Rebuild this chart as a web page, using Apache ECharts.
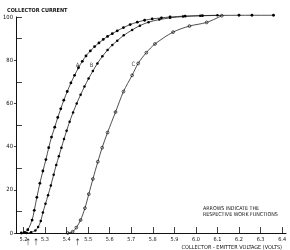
<!DOCTYPE html>
<html>
<head>
<meta charset="utf-8">
<script src="https://cdn.jsdelivr.net/npm/echarts@6/dist/echarts.min.js"></script>
<style>
  html, body { margin: 0; padding: 0; background: #fff; }
  #chart { width: 290px; height: 250px; }
</style>
</head>
<body>
<div id="chart"></div>
<script>
// curve A (filled dots)
var voltsA = [5.19, 5.205, 5.22, 5.24, 5.25, 5.262, 5.276, 5.29, 5.304, 5.317, 5.33, 5.345, 5.359, 5.373, 5.387, 5.403, 5.42, 5.437, 5.455, 5.473, 5.49, 5.51, 5.53, 5.55, 5.57, 5.59, 5.612, 5.635, 5.664, 5.695, 5.728, 5.762, 5.797, 5.84, 5.88, 5.95, 6.03, 6.2, 6.26, 6.36];
var currentA = [0, 0.3, 1.5, 6, 10.5, 16.5, 23, 28.7, 34, 39.5, 44.4, 49, 53.5, 57.5, 61.5, 65.5, 69.5, 73, 76.5, 79.5, 82, 84.3, 86.3, 88, 89.6, 91, 92.3, 93.6, 95.1, 96.5, 97.6, 98.5, 99.1, 99.6, 100, 100.4, 100.6, 100.8, 100.8, 100.8];
// curve B (small dots)
var voltsB = [5.215, 5.235, 5.255, 5.268, 5.28, 5.29, 5.302, 5.314, 5.327, 5.34, 5.352, 5.364, 5.376, 5.388, 5.4, 5.414, 5.43, 5.447, 5.465, 5.483, 5.502, 5.522, 5.543, 5.566, 5.59, 5.612, 5.635, 5.665, 5.704, 5.74, 5.78, 5.83, 5.88, 5.94, 6.02, 6.1];
var currentB = [0, 0.3, 1.2, 2.8, 5.5, 9.5, 13.5, 17.5, 22, 27, 31.5, 35.5, 39.5, 43.5, 47.3, 51.5, 55.8, 60, 64, 67.8, 71.5, 75, 78.5, 81.8, 84.7, 87, 89, 91.5, 94, 96, 97.6, 98.8, 99.6, 100.2, 100.6, 100.8];
// curve C (open circles)
var voltsC = [5.405, 5.428, 5.445, 5.465, 5.485, 5.503, 5.522, 5.545, 5.565, 5.59, 5.627, 5.664, 5.704, 5.732, 5.77, 5.81, 5.894, 5.97, 6.05, 6.12];
var currentC = [0, 0.6, 2.5, 6, 11.5, 18, 25, 33, 39.5, 46.5, 56, 65.5, 73, 78.5, 83.5, 87.5, 93, 95.8, 97.5, 100.6];

var xTicks = [5.2, 5.3, 5.4, 5.5, 5.6, 5.7, 5.8, 5.9, 6.0, 6.1, 6.2, 6.3, 6.4];
var yLabels = [0, 20, 40, 60, 80, 100];
var yMinorTicks = [10, 30, 50, 70, 90, 100];

var curveNames = ['A', 'B', 'C'];
var curveLabelX = [5.451, 5.516, 5.71];
var curveLabelY = [77.8, 77.8, 78.2];

// work function arrows
var arrowVolts = [5.221, 5.258, 5.451];
var arrowLevel = -4;

function pairs(xs, ys) {
    return xs.map(function (x, i) { return [x, ys[i]]; });
}

var ink = '#111';
var font = 'DejaVu Sans Condensed';

var myChart = echarts.init(document.getElementById('chart'), null, { renderer: 'canvas' });

var option = {
    backgroundColor: '#fff',
    animation: false,
    title: [
        {
            text: 'COLLECTOR CURRENT',
            left: 2, top: 3,
            textStyle: { color: ink, fontSize: 5.5, fontWeight: 'bold', fontFamily: font }
        },
        {
            text: 'ARROWS INDICATE THE\nRESPECTIVE WORK FUNCTIONS',
            left: 198, top: 200,
            textStyle: { color: ink, fontSize: 5.3, fontWeight: 'normal', fontFamily: font, lineHeight: 6.5 }
        },
        {
            text: 'COLLECTOR - EMITTER VOLTAGE (VOLTS)',
            right: 3, top: 240,
            textStyle: { color: ink, fontSize: 5.5, fontWeight: 'normal', fontFamily: font }
        }
    ],
    grid: { left: 15, right: 4, top: 17, bottom: 17 },
    xAxis: {
        type: 'value',
        min: 5.165,
        max: 6.418,
        axisLine: { lineStyle: { color: ink, width: 1 } },
        axisTick: {
            inside: true, length: 6, customValues: xTicks,
            lineStyle: { color: ink, width: 0.8 }
        },
        axisLabel: {
            customValues: xTicks, margin: 4,
            color: ink, fontSize: 5.5, fontFamily: font,
            formatter: function (v) { return v.toFixed(1); }
        },
        splitLine: { show: false }
    },
    yAxis: [
        {
            type: 'value',
            min: 0, max: 100,
            axisLine: { show: true, lineStyle: { color: ink, width: 1 } },
            axisTick: {
                show: true, length: 2, customValues: [0, 20, 40, 60, 80],
                lineStyle: { color: ink, width: 0.8 }
            },
            axisLabel: {
                customValues: yLabels, margin: 3,
                color: ink, fontSize: 5.8, fontFamily: font
            },
            splitLine: { show: false }
        },
        {
            type: 'value',
            position: 'left',
            min: 0, max: 100,
            axisLine: { show: false },
            axisTick: {
                show: true, inside: true, length: 6, customValues: yMinorTicks,
                lineStyle: { color: ink, width: 0.8 }
            },
            axisLabel: { show: false },
            splitLine: { show: false }
        }
    ],
    series: [
        {
            name: 'A', type: 'line', smooth: 0.3, clip: false,
            data: pairs(voltsA, currentA),
            symbol: 'circle', symbolSize: 2.8,
            itemStyle: { color: '#000' },
            lineStyle: { color: '#222', width: 0.8 }
        },
        {
            name: 'B', type: 'line', smooth: 0.3, clip: false,
            data: pairs(voltsB, currentB),
            symbol: 'circle', symbolSize: 2.5,
            itemStyle: { color: '#000' },
            lineStyle: { color: '#222', width: 0.8 }
        },
        {
            name: 'C', type: 'line', smooth: 0.3, clip: false,
            data: pairs(voltsC, currentC),
            symbol: 'circle', symbolSize: 2.8,
            itemStyle: { color: 'rgba(255,255,255,0)', borderColor: '#111', borderWidth: 0.7 },
            lineStyle: { color: '#222', width: 0.8 }
        },
        {
            type: 'scatter', clip: false, silent: true,
            data: curveNames.map(function (n, i) { return [curveLabelX[i], curveLabelY[i], n]; }),
            symbolSize: 0,
            label: {
                show: true, position: 'inside',
                formatter: function (p) { return p.data[2]; },
                color: ink, fontSize: 6, fontFamily: font
            }
        },
        {
            type: 'scatter', clip: false, silent: true,
            data: arrowVolts.map(function (v) { return [v, arrowLevel]; }),
            symbol: 'path://M5,0 L9,6 L5.6,6 L5.6,20 L4.4,20 L4.4,6 L1,6 Z',
            symbolSize: [3.5, 7],
            itemStyle: { color: ink }
        }
    ]
};

myChart.setOption(option);
window.addEventListener('resize', function () {
    myChart.resize();
});
</script>
</body>
</html>
